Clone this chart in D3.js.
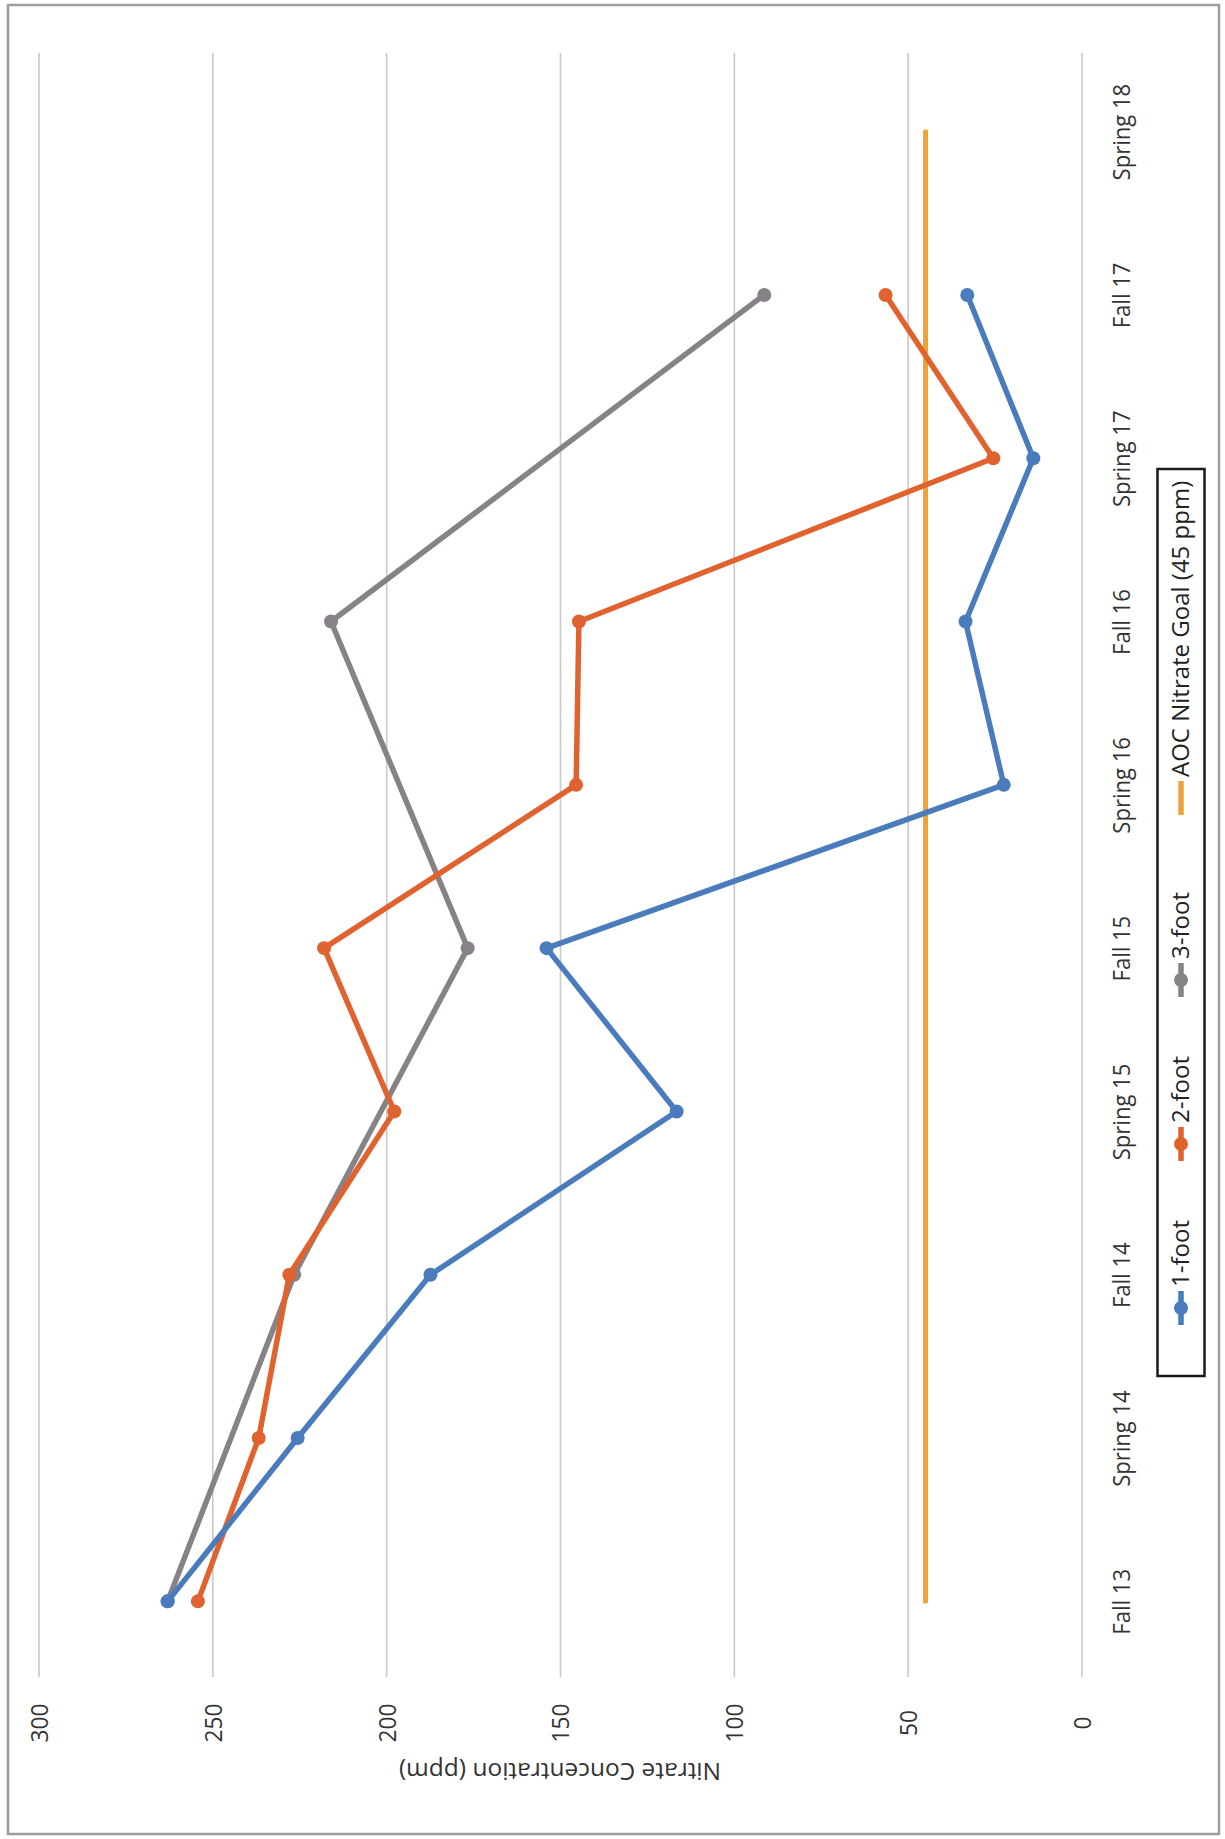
<!DOCTYPE html>
<html>
<head>
<meta charset="utf-8">
<script src="https://cdn.jsdelivr.net/npm/d3@7"></script>
<style>
  html, body { margin: 0; padding: 0; background: #ffffff; }
  svg { display: block; }
</style>
</head>
<body>
<svg id="chart" width="1225" height="1839"></svg>
<script>
// Sampling seasons
const categories = ["Fall 13", "Spring 14", "Fall 14", "Spring 15", "Fall 15",
                    "Spring 16", "Fall 16", "Spring 17", "Fall 17", "Spring 18"];

// Nitrate concentration (ppm) by depth; null = not sampled
const oneFoot   = [263, 225.6, 187.4, 116.6, 154, 22.5, 33.5, 14, 33, null];
const twoFoot   = [254.3, 236.8, 228, 197.8, 218, 145.5, 144.7, 25.5, 56.5, null];
const threeFoot = [263, null, 226.6, null, 176.7, null, 216, null, 91.4, null];

// AOC nitrate goal
const goalValue = 45;
const goalSeries = categories.map(() => goalValue);

const valueTicks = [0, 50, 100, 150, 200, 250, 300];

const seriesNames = ["1-foot", "2-foot", "3-foot", "AOC Nitrate Goal (45 ppm)"];
const seriesColors = ["#4a7bbd", "#e0622f", "#878287", "#eba43c"];

const svg = d3.select("#chart");

// The chart is laid out sideways: value axis runs right-to-left along the bottom,
// seasons run bottom-to-top along the right side.
const x = d3.scaleLinear().domain([0, 300]).range([1082, 39]);
const y = d3.scalePoint().domain(categories).range([1683, 50]).padding(0.5);

const labelFont = "'Open Sans', sans-serif";

// page border
svg.append("rect")
  .attr("x", 8).attr("y", 5).attr("width", 1211).attr("height", 1829)
  .attr("fill", "#ffffff").attr("stroke", "#9d9d9d").attr("stroke-width", 2.5);

// gridlines
svg.append("g").selectAll("line").data(valueTicks).join("line")
  .attr("x1", d => x(d)).attr("x2", d => x(d))
  .attr("y1", 53).attr("y2", 1677)
  .attr("stroke", "#c9c9c9").attr("stroke-width", 1.6);

// value axis labels (bottom, rotated)
const xAxis = d3.axisBottom(x).tickValues(valueTicks).tickSize(0).tickPadding(0);
const gx = svg.append("g").attr("transform", "translate(0,1723)").call(xAxis);
gx.select(".domain").remove();
gx.selectAll("text")
  .attr("transform", "rotate(-90) scale(0.95,1)")
  .attr("x", 0).attr("y", 0).attr("dy", "0.35em")
  .attr("text-anchor", "middle")
  .attr("font-family", labelFont).attr("font-size", 24).attr("fill", "#333");

// category labels (right side, rotated, slightly condensed)
const yAxis = d3.axisRight(y).tickSize(0).tickPadding(0);
const gy = svg.append("g").attr("transform", "translate(1121,0)").call(yAxis);
gy.select(".domain").remove();
gy.selectAll("text")
  .attr("transform", "rotate(-90) scale(0.9,1)")
  .attr("x", 0).attr("y", 0).attr("dy", "0.35em")
  .attr("text-anchor", "middle")
  .attr("font-family", labelFont).attr("font-size", 24.5).attr("fill", "#333");

// value axis title (upside down)
svg.append("text")
  .attr("transform", "translate(560,1772) rotate(180)")
  .attr("text-anchor", "middle").attr("dy", "0.35em")
  .attr("font-family", "'Open Sans', sans-serif").attr("font-size", 24.5)
  .attr("fill", "#333")
  .text("Nitrate Concentration (ppm)");

// series lines
const line = d3.line()
  .x(d => x(d.v))
  .y(d => y(d.c));

function toPoints(values) {
  return values.map((v, i) => ({ c: categories[i], v }))
               .filter(d => d.v !== null);
}

// goal line (no markers)
svg.append("path")
  .datum(toPoints(goalSeries))
  .attr("d", line)
  .attr("fill", "none").attr("stroke", seriesColors[3])
  .attr("stroke-width", 5).attr("stroke-linecap", "round");

const depthSeries = [threeFoot, twoFoot, oneFoot];
const depthColors = [seriesColors[2], seriesColors[1], seriesColors[0]];

depthSeries.forEach((vals, k) => {
  const pts = toPoints(vals);
  const g = svg.append("g");
  g.append("path").datum(pts).attr("d", line)
    .attr("fill", "none").attr("stroke", depthColors[k])
    .attr("stroke-width", 5.5).attr("stroke-linejoin", "round").attr("stroke-linecap", "round");
  g.selectAll("circle").data(pts).join("circle")
    .attr("cx", d => x(d.v)).attr("cy", d => y(d.c))
    .attr("r", 7).attr("fill", depthColors[k]);
});

// legend (rotated to read bottom-to-top)
const legend = svg.append("g").attr("transform", "translate(1181,1376) rotate(-90)");
legend.append("rect")
  .attr("x", 0).attr("y", -23.5).attr("width", 907).attr("height", 47)
  .attr("fill", "#ffffff").attr("stroke", "#1a1a1a").attr("stroke-width", 2.5);

const legendItems = [
  { name: seriesNames[0], color: seriesColors[0], sx: 51, marker: true },
  { name: seriesNames[1], color: seriesColors[1], sx: 215, marker: true },
  { name: seriesNames[2], color: seriesColors[2], sx: 379, marker: true },
  { name: seriesNames[3], color: seriesColors[3], sx: 561, marker: false }
];
legendItems.forEach(it => {
  const g = legend.append("g").attr("transform", `translate(${it.sx},0)`);
  g.append("line").attr("x1", 0).attr("x2", 34).attr("y1", 0).attr("y2", 0)
    .attr("stroke", it.color).attr("stroke-width", 5.5);
  if (it.marker) g.append("circle").attr("cx", 17).attr("cy", 0).attr("r", 7).attr("fill", it.color);
  g.append("text").attr("x", 38).attr("y", 0).attr("dy", "0.35em")
    .attr("font-family", labelFont).attr("font-size", 24).attr("fill", "#222")
    .text(it.name);
});
</script>
</body>
</html>
